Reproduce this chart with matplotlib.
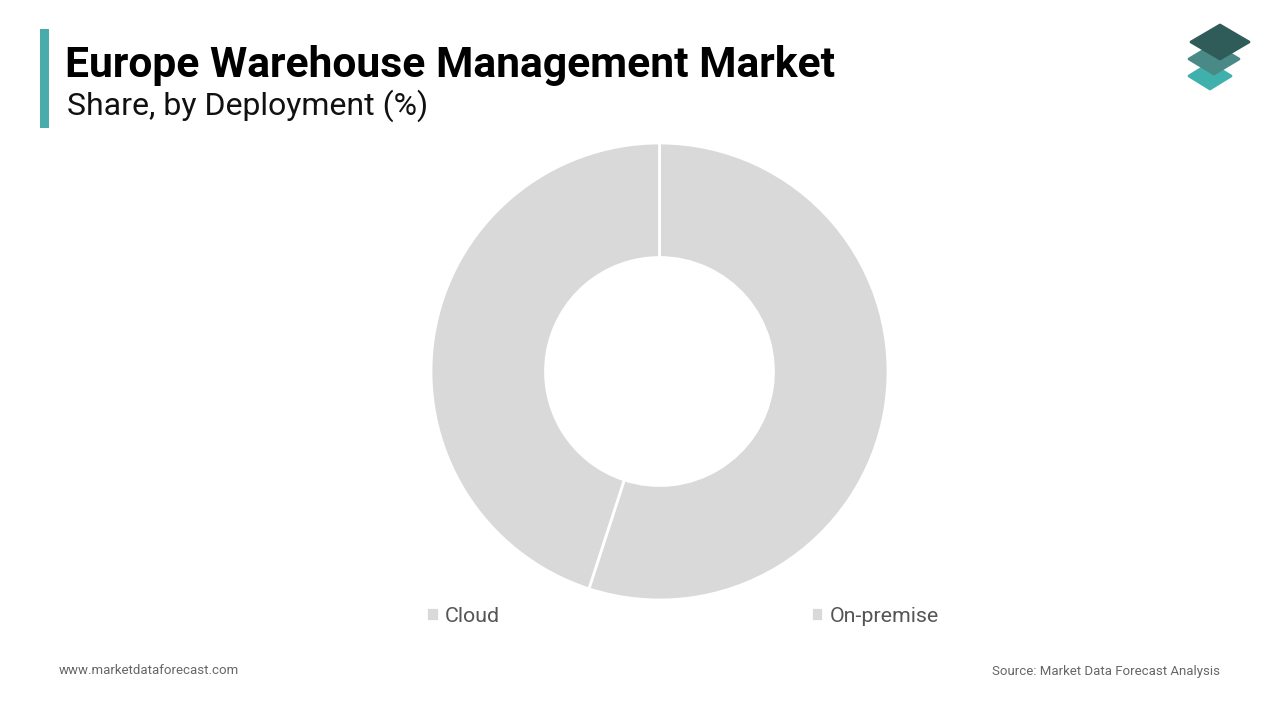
import matplotlib.pyplot as plt
from matplotlib.patches import Polygon, Rectangle

# =========================
# data
# =========================
labels = ["Cloud", "On-premise"]
shares = [55, 45]
slice_colors = ["#d9d9d9", "#d9d9d9"]

title = "Europe Warehouse Management Market"
subtitle = "Share, by Deployment (%)"
footer_left = "www.marketdataforecast.com"
footer_right = "Source: Market Data Forecast Analysis"

plt.rcParams["font.family"] = ["Roboto", "DejaVu Sans"]

# =========================
# figure, in pixel coords
# =========================
W, H = 1280, 720
fig = plt.figure(figsize=(W / 100, H / 100), dpi=100)
ax = fig.add_axes([0, 0, 1, 1])

# donut
wedges, _ = ax.pie(
    shares,
    colors=slice_colors,
    center=(659.5, H - 371.5),
    radius=228.5,
    startangle=90,
    counterclock=False,
    wedgeprops=dict(width=114.5, edgecolor="white", linewidth=2),
    frame=True,
)
ax.set_xlim(0, W)
ax.set_ylim(0, H)
ax.set_aspect("equal")
ax.axis("off")

# legend
leg = ax.legend(
    wedges, labels,
    loc="center left",
    bbox_to_anchor=(426 / W, 1 - 616 / H),
    ncol=2,
    frameon=False,
    fontsize=15.4,
    handlelength=0.6,
    handleheight=0.6,
    handletextpad=0.3,
    columnspacing=14.5,
    borderpad=0,
    borderaxespad=0,
)
for t in leg.get_texts():
    t.set_color("#555555")

# header accent bar
ax.add_patch(Rectangle((40, H - 128), 9, 99, color="#4aacaa", lw=0))

fig.text(65 / W, 1 - 66 / H, title, fontsize=30.7, fontweight="bold",
         color="#000000", va="center", ha="left")
fig.text(67 / W, 1 - 106 / H, subtitle, fontsize=23,
         color="#111111", va="center", ha="left")

# footer
fig.text(59 / W, 1 - 671 / H, footer_left, fontsize=9.5, color="#666666",
         va="center", ha="left")
fig.text(1220 / W, 1 - 671 / H, footer_right, fontsize=9.5, color="#666666",
         va="center", ha="right")

# logo: stacked tiles
def tile(cx, cy, hw, hh, color, z):
    pts = [(cx, H - (cy - hh)), (cx + hw, H - cy), (cx, H - (cy + hh)), (cx - hw, H - cy)]
    ax.add_patch(Polygon(pts, closed=True, facecolor=color, edgecolor=color,
                         lw=2, joinstyle="round", zorder=z))

tile(1210, 76, 21, 13, "#3fb0ac", 5)
tile(1214, 59, 25, 15, "#4a8a86", 6)
tile(1220, 42, 29, 17, "#2f5b58", 7)

fig.savefig("out.png", dpi=100)
